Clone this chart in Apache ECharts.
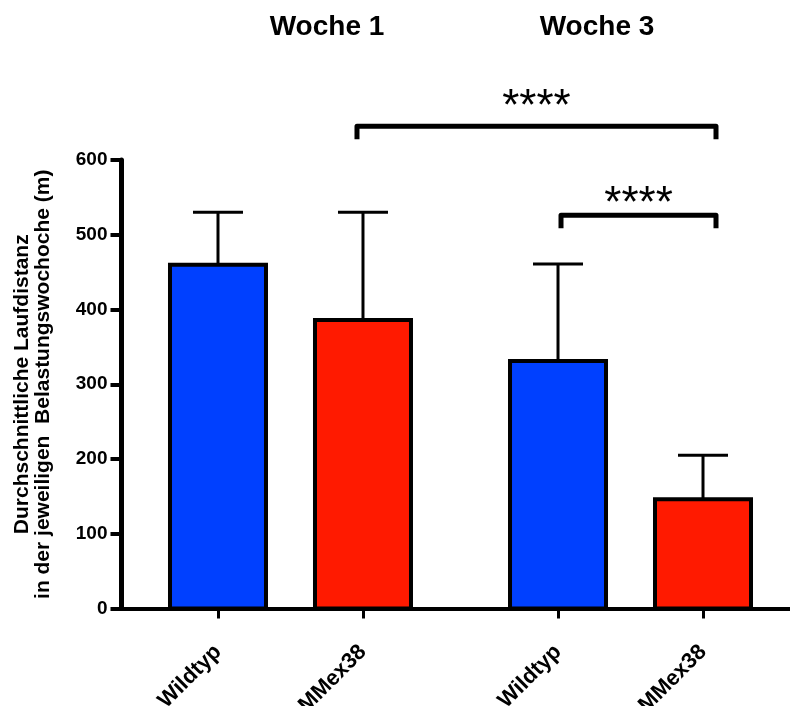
<!DOCTYPE html>
<html>
<head>
<meta charset="utf-8">
<script src="https://cdn.jsdelivr.net/npm/echarts@6/dist/echarts.min.js"></script>
<style>
  html, body { margin: 0; padding: 0; background: #fff; }
  #chart { width: 790px; height: 706px; }
</style>
</head>
<body>
<div id="chart"></div>
<script>
// ---- data ----
const categories = ['Wildtyp', 'MMex38', 'Wildtyp', 'MMex38'];
const groupNames = ['Woche 1', 'Woche 3'];
const groupOfBar = [0, 0, 1, 1];
const means = [460, 386, 331, 146];
const sdUpper = [70, 144, 130, 59];
const comparisons = [[1, 3], [2, 3]];
const comparisonLabels = ['****', '****'];
const comparisonLevels = [645, 526];
const comparisonLabelLevels = [682, 553];
const yTicks = [0, 100, 200, 300, 400, 500, 600];

// ---- layout / styles ----
const FONT = "'Liberation Sans', Arial, Helvetica, sans-serif";
const GROUP_GAP = 2.345;
const barFill = ['#0040FF', '#FF1A00', '#0040FF', '#FF1A00'];
function xOf(i) { return groupOfBar[i] * GROUP_GAP + (i % 2); }
const positions = categories.map((c, i) => xOf(i));

const chart = echarts.init(document.getElementById('chart'), null, { renderer: 'canvas' });

const option = {
  animation: false,
  backgroundColor: '#fff',
  grid: { left: 121.5, right: 0, top: 160, bottom: 97.5, containLabel: false, outerBoundsMode: 'none' },
  graphic: [
    { type: 'text', x: 327, y: 27, style: { text: groupNames[0], align: 'center', verticalAlign: 'middle', font: 'bold 28px ' + FONT, fill: '#000' } },
    { type: 'text', x: 597, y: 27, style: { text: groupNames[1], align: 'center', verticalAlign: 'middle', font: 'bold 28px ' + FONT, fill: '#000' } }
  ],
  xAxis: {
    type: 'value',
    min: -0.6655,
    max: 3.945,
    splitLine: { show: false },
    axisLine: { show: true, onZero: false, lineStyle: { color: '#000', width: 4 } },
    axisTick: { show: true, customValues: positions, length: 10, lineStyle: { color: '#000', width: 3 } },
    axisLabel: {
      show: true,
      customValues: positions,
      rotate: 45,
      margin: 40,
      color: '#000',
      fontWeight: 'bold',
      fontSize: 22,
      fontFamily: FONT,
      formatter: function (v) {
        const i = positions.findIndex(p => Math.abs(p - v) < 1e-6);
        return i >= 0 ? categories[i] : '';
      }
    }
  },
  yAxis: {
    type: 'value',
    min: 0,
    max: 600,
    interval: 100,
    splitLine: { show: false },
    axisLine: { show: true, onZero: false, lineStyle: { color: '#000', width: 5 } },
    axisTick: { show: true, length: 11, lineStyle: { color: '#000', width: 4 } },
    axisLabel: { color: '#000', fontWeight: 'bold', fontSize: 19, fontFamily: FONT, margin: 14 },
    name: 'Durchschnittliche Laufdistanz\nin der jeweiligen  Belastungswochoche (m)',
    nameLocation: 'middle',
    nameRotate: 90,
    nameGap: 68,
    nameTextStyle: { color: '#000', fontWeight: 'bold', fontSize: 21, fontFamily: FONT, lineHeight: 21 }
  },
  series: [
    {
      name: 'errors',
      type: 'custom',
      clip: false,
      z: 2,
      data: means.map((m, i) => [xOf(i), m, m + sdUpper[i]]),
      renderItem: function (params, api) {
        const x = api.value(0);
        const p0 = api.coord([x, api.value(1)]);
        const p1 = api.coord([x, api.value(2)]);
        const cap = 50;
        return {
          type: 'group',
          children: [
            { type: 'line', shape: { x1: p0[0], y1: p0[1], x2: p1[0], y2: p1[1] }, style: { stroke: '#000', lineWidth: 3 } },
            { type: 'line', shape: { x1: p1[0] - cap / 2, y1: p1[1], x2: p1[0] + cap / 2, y2: p1[1] }, style: { stroke: '#000', lineWidth: 3 } }
          ]
        };
      }
    },
    {
      name: 'bars',
      type: 'custom',
      clip: false,
      z: 3,
      data: means.map((m, i) => [xOf(i), m]),
      renderItem: function (params, api) {
        const x = api.value(0);
        const top = api.coord([x, api.value(1)]);
        const base = api.coord([x, 0]);
        const w = 96;
        return {
          type: 'rect',
          shape: { x: top[0] - w / 2, y: top[1], width: w, height: base[1] - top[1] },
          style: { fill: barFill[params.dataIndex], stroke: '#000', lineWidth: 4 }
        };
      }
    },
    {
      name: 'significance',
      type: 'custom',
      clip: false,
      z: 4,
      data: comparisons.map((c, k) => [xOf(c[0]), xOf(c[1]), comparisonLevels[k], comparisonLabelLevels[k]]),
      renderItem: function (params, api) {
        const k = params.dataIndex;
        const a = api.coord([api.value(0), api.value(2)]);
        const b = api.coord([api.value(1), api.value(2)]);
        const t = api.coord([api.value(0), api.value(3)]);
        const leftOff = k === 0 ? -6 : 3;
        const rightOff = 13;
        const x1 = a[0] + leftOff, x2 = b[0] + rightOff, y = a[1];
        const drop = 13;
        return {
          type: 'group',
          children: [
            { type: 'polyline', shape: { points: [[x1, y + drop], [x1, y], [x2, y], [x2, y + drop]] }, style: { stroke: '#000', lineWidth: 5, fill: null, lineJoin: 'round' } },
            { type: 'text', style: { text: comparisonLabels[k], x: (x1 + x2) / 2, y: t[1] + 9.5, align: 'center', verticalAlign: 'middle', font: '44px ' + FONT, fill: '#000' } }
          ]
        };
      }
    }
  ]
};
chart.setOption(option);
</script>
</body>
</html>
